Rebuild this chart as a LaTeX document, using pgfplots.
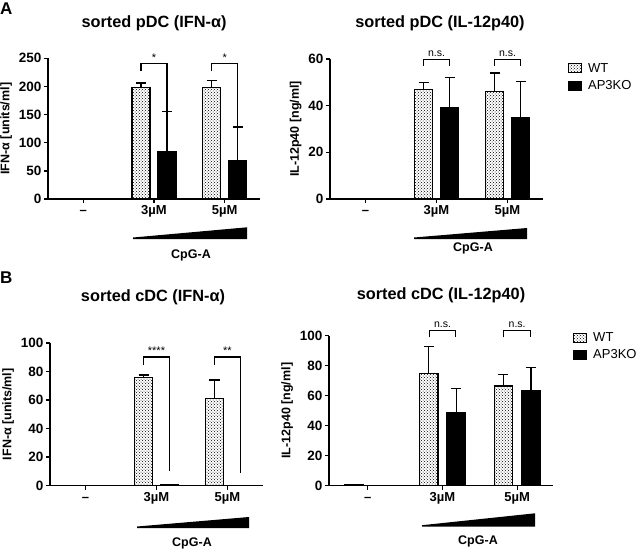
\documentclass[border=0pt]{standalone}
\usepackage{fontspec}
\setmainfont{Liberation Sans}
\usepackage{pgfplots}
\pgfplotsset{compat=1.18}
\usetikzlibrary{patterns}

\tikzset{br/.style={line width=1.1pt, black}}
\pgfplotsset{
 prism/.style={
   scale only axis,
   anchor=south west,
   axis x line*=bottom, axis y line*=left,
   axis line style={line width=1.3pt, -},
   tick style={line width=1.3pt, black},
   tick align=outside, major tick length=4pt,
   xtick={0,1,2}, xticklabels={\strut\textbf{–},\strut 3µM,\strut 5µM},
   xmin=-0.5, xmax=2.5, ymin=0,
   ybar=8pt, bar width=18pt,
   clip=false,
   /pgf/number format/assume math mode=true,
   yticklabel style={font=\bfseries\fontsize{13.5}{13.5}\selectfont, xshift=1pt},
   xticklabel style={font=\bfseries\fontsize{13}{13}\selectfont, yshift=1pt},
   ylabel style={font=\bfseries\fontsize{12.5}{12.5}\selectfont},
   legend style={draw=none, fill=none, font=\fontsize{13}{13}\selectfont, anchor=north west, row sep=3pt, column sep=4pt},
   legend cell align=left,
 },
 wt/.style={draw=black, line width=1.2pt, pattern=crosshatch dots, pattern color=black,
   error bars/.cd, y dir=plus, y explicit,
   error bar style={line width=1.2pt, black},
   error mark options={rotate=90, mark size=5pt, line width=1.2pt, black}},
 ko/.style={draw=black, fill=black, line width=1.2pt,
   error bars/.cd, y dir=plus, y explicit,
   error bar style={line width=1.2pt, black},
   error mark options={rotate=90, mark size=5pt, line width=1.2pt, black}},
 boxlegend/.style={legend image code/.code={\draw[##1, line width=1pt] (0pt,-4.5pt) rectangle (13pt,4.5pt);}},
}

\begin{document}
\begin{tikzpicture}
\useasboundingbox (0pt,0pt) rectangle (640pt,-550pt);

% ---------- A left ----------
\begin{axis}[prism, at={(48pt,-199pt)}, width=212pt, height=140.7pt,
  ymax=250, ytick={0,50,...,250}, ylabel={IFN-α [units/ml]}]
\addplot[wt] coordinates {(1,198) +- (0,8) (2,198) +- (0,13)};
\addplot[ko] coordinates {(1,84) +- (0,72) (2,69) +- (0,59)};
\draw[br] (axis cs:0.816,228) |- (axis cs:1.184,241) -- (axis cs:1.184,156);
\draw[br] (axis cs:1.816,228) |- (axis cs:2.184,241) -- (axis cs:2.184,128);
\node[anchor=south, inner sep=2pt, font=\fontsize{11}{11}\selectfont] at (axis cs:1,241) {*};
\node[anchor=south, inner sep=2pt, font=\fontsize{11}{11}\selectfont] at (axis cs:2,241) {*};
\end{axis}

% ---------- A right ----------
\begin{axis}[prism, at={(330pt,-199pt)}, width=213pt, height=140pt,
  ymax=60, ytick={0,20,...,60}, ylabel={IL-12p40 [ng/ml]},
  legend style={at={(1.103,1.0)}}]
\addplot[boxlegend, wt] coordinates {(1,47) +- (0,3) (2,46) +- (0,8)};
\addplot[boxlegend, ko] coordinates {(1,39) +- (0,13) (2,35) +- (0,15.3)};
\legend{WT,AP3KO}
\draw[br] (axis cs:0.816,57.1) |- (axis cs:1.184,59.6) -- (axis cs:1.184,57.1);
\draw[br] (axis cs:1.816,57.1) |- (axis cs:2.184,59.6) -- (axis cs:2.184,57.1);
\node[anchor=south, inner sep=3pt, font=\fontsize{10.5}{10.5}\selectfont] at (axis cs:1,59.6) {n.s.};
\node[anchor=south, inner sep=3pt, font=\fontsize{10.5}{10.5}\selectfont] at (axis cs:2,59.6) {n.s.};
\end{axis}

% ---------- B left ----------
\begin{axis}[prism, at={(50pt,-485.5pt)}, width=213pt, height=142.5pt,
  ymax=100, ytick={0,20,...,100}, ylabel={IFN-α [units/ml]}]
\addplot[wt] coordinates {(1,76) +- (0,1.5) (2,61) +- (0,13)};
\addplot[ko] coordinates {(1,0.6) +- (0,0) (2,0) +- (0,0)};
\draw[br] (axis cs:0.816,84.4) |- (axis cs:1.184,90.2) -- (axis cs:1.184,10);
\draw[br] (axis cs:1.816,84.4) |- (axis cs:2.184,90.2) -- (axis cs:2.184,9);
\node[anchor=south, inner sep=2pt, font=\fontsize{11}{11}\selectfont] at (axis cs:1,90.2) {****};
\node[anchor=south, inner sep=2pt, font=\fontsize{11}{11}\selectfont] at (axis cs:2,90.2) {**};
\end{axis}

% ---------- B right ----------
\begin{axis}[prism, at={(329pt,-485.7pt)}, width=224pt, height=150pt,
  xmin=-0.52, xmax=2.48, bar width=18.5pt, ybar=9pt,
  ymax=100, ytick={0,20,...,100}, ylabel={IL-12p40 [ng/ml]},
  legend style={at={(1.076,1.05)}}]
\addplot[boxlegend, wt] coordinates {(0,0.8) +- (0,0) (1,75) +- (0,18) (2,66.5) +- (0,7.5)};
\addplot[boxlegend, ko] coordinates {(1,49) +- (0,16) (2,63.5) +- (0,15.5)};
\legend{WT,AP3KO}
\draw[br] (axis cs:0.82,98.9) |- (axis cs:1.18,103.3) -- (axis cs:1.18,98.9);
\draw[br] (axis cs:1.82,98.9) |- (axis cs:2.18,103.3) -- (axis cs:2.18,98.9);
\node[anchor=south, inner sep=3pt, font=\fontsize{10.5}{10.5}\selectfont] at (axis cs:1,103.3) {n.s.};
\node[anchor=south, inner sep=3pt, font=\fontsize{10.5}{10.5}\selectfont] at (axis cs:2,103.3) {n.s.};
\end{axis}

% ---------- titles, labels, ramps ----------
\tikzset{ttl/.style={font=\bfseries\fontsize{16.3}{16.3}\selectfont, inner sep=0pt},
         cpg/.style={font=\bfseries\fontsize{12.5}{12.5}\selectfont, inner sep=0pt},
         pl/.style={font=\bfseries\fontsize{17}{17}\selectfont, anchor=north west, inner sep=0pt}}
\node[pl] at (0pt,-3pt) {A};
\node[pl] at (0pt,-272pt) {B};
\node[ttl] at (154pt,-23pt) {sorted pDC (IFN-α)};
\node[ttl] at (440pt,-23pt) {sorted pDC (IL-12p40)};
\node[ttl] at (153pt,-297pt) {sorted cDC (IFN-α)};
\node[ttl] at (441pt,-295pt) {sorted cDC (IL-12p40)};

\fill[black] (133pt,-239pt) -- (247pt,-239pt) -- (247pt,-227.3pt) -- (133pt,-237.5pt) -- cycle;
\fill[black] (414pt,-239pt) -- (527pt,-239pt) -- (527pt,-228pt) -- (414pt,-237.5pt) -- cycle;
\fill[black] (137pt,-528pt) -- (249pt,-528pt) -- (249pt,-517pt) -- (137pt,-526.5pt) -- cycle;
\fill[black] (422pt,-526.7pt) -- (535pt,-526.7pt) -- (535pt,-513.3pt) -- (422pt,-525.2pt) -- cycle;
\node[cpg] at (191pt,-255pt) {CpG-A};
\node[cpg] at (473pt,-248.5pt) {CpG-A};
\node[cpg] at (192pt,-543pt) {CpG-A};
\node[cpg] at (478pt,-541.7pt) {CpG-A};
\end{tikzpicture}
\end{document}
